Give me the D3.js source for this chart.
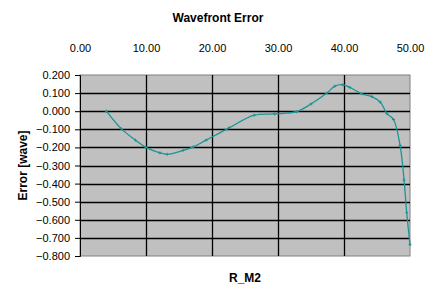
<!DOCTYPE html>
<html>
<head>
<meta charset="utf-8">
<script src="https://cdn.jsdelivr.net/npm/d3@7"></script>
<style>
body { margin: 0; background: #fff; }
text { font-family: Arial, "Liberation Sans", sans-serif; }
</style>
</head>
<body>
<svg width="436" height="300"></svg>
<script>
// R_M2 positions and wavefront error
var rm2 = [4.0, 6.2, 8.4, 10.0, 12.1, 13.2, 15.6, 17.2, 19.1, 22.6, 26.4, 29.5, 32.8, 35.0, 37.4, 38.6, 39.8, 40.9, 42.7, 44.2, 45.5, 46.5, 47.5, 48.5, 49.1, 49.5, 50.0];
var err = [0.0, -0.095, -0.16, -0.20, -0.23, -0.238, -0.217, -0.197, -0.16, -0.092, -0.022, -0.015, -0.003, 0.04, 0.10, 0.138, 0.146, 0.131, 0.096, 0.081, 0.05, -0.013, -0.046, -0.19, -0.38, -0.56, -0.737];
var xTicks = [0, 10, 20, 30, 40, 50];
var yTicks = [0.2, 0.1, 0, -0.1, -0.2, -0.3, -0.4, -0.5, -0.6, -0.7, -0.8];

var data = rm2.map(function(d, i) { return {x: d, y: err[i]}; });

var svg = d3.select("svg"),
    margin = {top: 75, right: 26, bottom: 44, left: 80},
    width = +svg.attr("width") - margin.left - margin.right,
    height = +svg.attr("height") - margin.top - margin.bottom,
    g = svg.append("g").attr("transform", "translate(" + margin.left + "," + margin.top + ")");

var x = d3.scaleLinear().domain([0, 50]).range([0, width]);
var y = d3.scaleLinear().domain([-0.8, 0.2]).range([height, 0]);
var fmt = d3.format(".2f"), fmtY = d3.format(".3f");

// plot area
g.append("rect")
 .attr("width", width).attr("height", height)
 .attr("fill", "#c0c0c0")
 .attr("stroke", "#808080");

// grid
g.selectAll(".hgrid")
 .data(yTicks.slice(1, -1))
 .enter().append("line")
 .attr("x1", 0).attr("x2", width)
 .attr("y1", function(d) { return Math.round(y(d)) + 0.5; })
 .attr("y2", function(d) { return Math.round(y(d)) + 0.5; })
 .attr("stroke", "#000").attr("stroke-width", 1.3);

g.selectAll(".vgrid")
 .data(xTicks.slice(1, -1))
 .enter().append("line")
 .attr("y1", 0).attr("y2", height)
 .attr("x1", function(d) { return Math.round(x(d)) + 0.5; })
 .attr("x2", function(d) { return Math.round(x(d)) + 0.5; })
 .attr("stroke", "#000").attr("stroke-width", 1.3);

// left axis
var yAxis = g.append("g")
 .call(d3.axisLeft(y).tickValues(yTicks).tickFormat(fmtY).tickSize(5).tickPadding(5));
yAxis.select(".domain").attr("stroke", "#000");
yAxis.selectAll("text").attr("font-size", 11).attr("fill", "#000");

// top labels, no tick marks
var xAxis = g.append("g")
 .call(d3.axisTop(x).tickValues(xTicks).tickFormat(fmt).tickSize(0).tickPadding(23));
xAxis.select(".domain").remove();
xAxis.selectAll("text").attr("font-size", 11).attr("fill", "#000");

// curve
var line = d3.line()
 .x(function(d) { return x(d.x); })
 .y(function(d) { return y(d.y); })
 .curve(d3.curveCatmullRom);

g.append("path")
 .datum(data)
 .attr("fill", "none")
 .attr("stroke", "#1a9494")
 .attr("stroke-width", 1.3)
 .attr("d", line);

g.selectAll(".mark")
 .data(data)
 .enter().append("path")
 .attr("d", function(d) { var px = x(d.x), py = y(d.y); return "M" + (px - 1.5) + "," + py + "h3M" + px + "," + (py - 1.5) + "v3"; })
 .attr("stroke", "#1a9494")
 .attr("stroke-width", 1);

// titles
svg.append("text")
 .attr("x", 218).attr("y", 22)
 .attr("text-anchor", "middle")
 .attr("font-size", 12).attr("font-weight", "bold")
 .text("Wavefront Error");

svg.append("text")
 .attr("x", margin.left + width / 2).attr("y", 282)
 .attr("text-anchor", "middle")
 .attr("font-size", 12).attr("font-weight", "bold")
 .text("R_M2");

svg.append("text")
 .attr("transform", "translate(27," + (margin.top + height / 2) + ") rotate(-90)")
 .attr("text-anchor", "middle")
 .attr("font-size", 12).attr("font-weight", "bold")
 .text("Error [wave]");
</script>
</body>
</html>
